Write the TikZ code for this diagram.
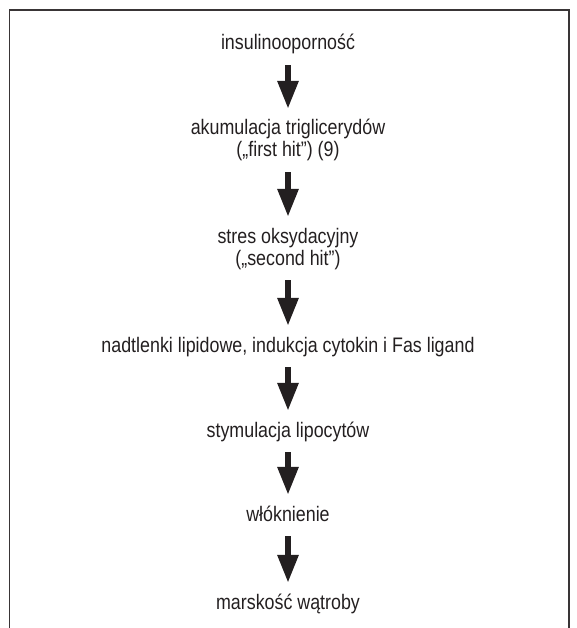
\documentclass[tikz,border=0pt]{standalone}
\usepackage{fontspec}
\setmainfont{Liberation Sans}[FakeStretch=0.85]
\usetikzlibrary{arrows.meta}
\definecolor{ink}{HTML}{231F20}
\begin{document}
\begin{tikzpicture}[x=1pt,y=-1pt,
  lbl/.style={font=\fontsize{21}{24}\selectfont, text=ink, inner sep=0pt, anchor=base, text height=15pt, text depth=4pt},
  flow/.style={draw=ink, line width=6pt, -{Triangle[length=28pt,width=20pt]}, shorten <=11pt, shorten >=11pt},
  frame/.style={draw=ink!90, line width=1.3pt}]
\useasboundingbox (0,0) rectangle (576,628);
\draw[frame] (9.5,628) |- (569,10) -- (569,628);
\node[lbl] (t1) at (288,50) {insulinooporność};
\node[lbl] (t2) at (288,135) {akumulacja triglicerydów};
\node[lbl] (t2b) at (288,157) {(„first hit”) (9)};
\node[lbl] (t3) at (288,243) {stres oksydacyjny};
\node[lbl] (t3b) at (288,265) {(„second hit”)};
\node[lbl] (t4) at (288,352) {nadtlenki lipidowe, indukcja cytokin i Fas ligand};
\node[lbl] (t5) at (288,437) {stymulacja lipocytów};
\node[lbl] (t6) at (288,521) {włóknienie};
\node[lbl] (t7) at (288,609) {marskość wątroby};
\draw[flow] (t1) -- (t2);
\draw[flow] (t2b) -- (t3);
\draw[flow] (t3b) -- (t4);
\draw[flow] (t4) -- (t5);
\draw[flow] (t5) -- (t6);
\draw[flow] (t6) -- (t7);
\end{tikzpicture}
\end{document}
